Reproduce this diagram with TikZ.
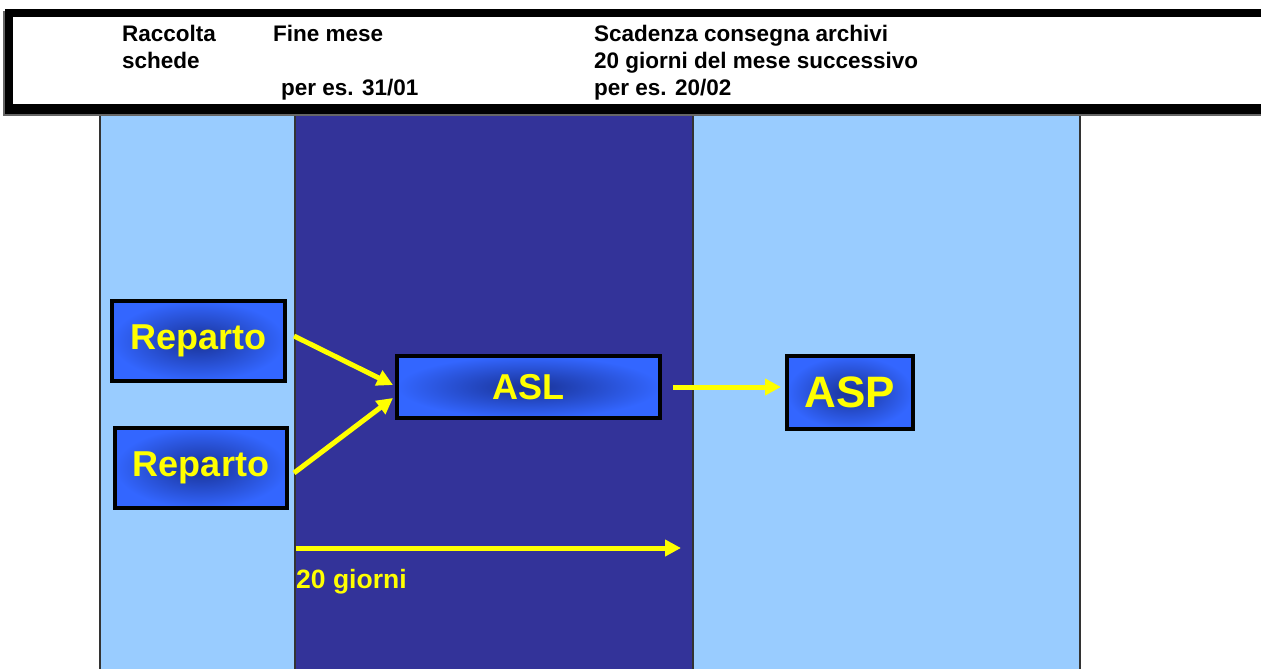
\documentclass[tikz,border=0pt]{standalone}
\usepackage{fontspec}
\setmainfont{Liberation Sans}
\usetikzlibrary{arrows.meta}
\definecolor{lightcol}{RGB}{153,204,255}
\definecolor{darkcol}{RGB}{51,51,153}
\definecolor{boxblue}{RGB}{51,102,255}
\definecolor{boxdark}{RGB}{25,50,150}
\definecolor{ylw}{RGB}{255,255,0}
\tikzset{
  box/.style={draw=black, line width=4pt, inner color=boxdark, outer color=boxblue,
    font=\bfseries, text=ylw, inner sep=0pt},
  yarrow/.style={draw=ylw, line width=5pt, -{Triangle[length=16pt,width=16pt]}},
  head/.style={font=\bfseries\fontsize{22.5}{27}\selectfont, anchor=north west, inner sep=0pt, align=left},
  colline/.style={draw=black!80, line width=1.5pt}
}
\begin{document}
\begin{tikzpicture}[x=1pt,y=-1pt]
\useasboundingbox (0,0) rectangle (1261,669);
\fill[white] (0,0) rectangle (1261,669);
% columns
\fill[lightcol] (100,114) rectangle (295,669);
\fill[darkcol] (295,114) rectangle (693,669);
\fill[lightcol] (693,114) rectangle (1080,669);
\draw[colline] (100,114) -- (100,669);
\draw[colline] (295,114) -- (295,669);
\draw[colline] (693,114) -- (693,669);
\draw[colline] (1080,114) -- (1080,669);
% header
\fill[black!60] (3,11) rectangle (1270,116);
\fill[black] (5,9) rectangle (1270,114);
\fill[white] (13,17) rectangle (1270,104);
\node[head] (h1) at (122,25) {Raccolta\\schede};
\node[head] (h2) at (273,25) {Fine mese};
\node[head] (h3) at (281,79) {per es. 31/01};
\node[head] (h4) at (594,25) {Scadenza consegna archivi\\20 giorni del mese successivo\\per es. 20/02};
% boxes
\node[box, minimum width=173pt, minimum height=80pt, font=\bfseries\fontsize{36}{36}\selectfont] (r1) at (198.5,341) {Reparto};
\node[box, minimum width=172pt, minimum height=80pt, font=\bfseries\fontsize{36}{36}\selectfont] (r2) at (201,468) {Reparto};
\node[box, minimum width=263pt, minimum height=62pt, font=\bfseries\fontsize{36}{36}\selectfont] (asl) at (528.5,387) {ASL};
\node[box, minimum width=126pt, minimum height=73pt, font=\bfseries\fontsize{44}{44}\selectfont] (asp) at (850,392.5) {ASP};
% arrows
\draw[yarrow] ([xshift=7pt,yshift=5pt]r1.east) -- ([xshift=-2pt,yshift=2pt]asl.west);
\draw[yarrow] ([xshift=5pt,yshift=-5pt]r2.east) -- ([xshift=-2pt,yshift=-11pt]asl.west);
\draw[yarrow] ([xshift=11pt]asl.east) -- ([xshift=-4pt]asp.west |- asl.east);
\coordinate (ds) at (296,548);
\coordinate (de) at (681,548);
\draw[yarrow] (ds) -- (de);
\node[font=\bfseries\fontsize{26.5}{26.5}\selectfont, text=ylw, anchor=north west, inner sep=0pt] (lbl) at (296,569) {20 giorni};
\end{tikzpicture}
\end{document}
